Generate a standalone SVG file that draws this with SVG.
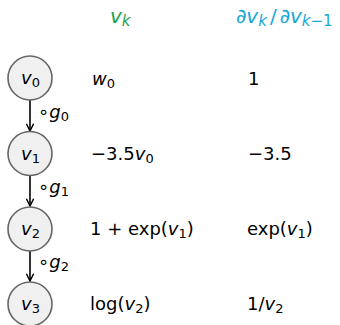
<svg xmlns="http://www.w3.org/2000/svg" width="340" height="325" viewBox="0 0 340 325">
<defs>
<marker id="ah" viewBox="0 0 10 10" refX="9" refY="5" markerWidth="9" markerHeight="9" orient="auto" markerUnits="userSpaceOnUse">
<path d="M1,1 L9,5 L1,9" fill="none" stroke="#000" stroke-width="1.6"/>
</marker>
<style>
text{font-family:"DejaVu Sans","Liberation Sans",sans-serif;font-size:18px;fill:#000}
.i{font-style:italic}
.s{font-size:13px}
.h{font-size:20px}
.hs{font-size:15px}
.n{fill:#f0f0f0;stroke:#666;stroke-width:1.6}
.c{stroke:#000;stroke-width:1.6;fill:none;marker-end:url(#ah)}
.g{fill:#22a34a}
.b{fill:#1ca7d6}
</style>
</defs>
<rect width="340" height="325" fill="#fff"/>
<text x="110" y="23" class="g h"><tspan class="i">v</tspan><tspan class="i hs" dy="3">k</tspan></text>
<text x="236" y="23" class="b h">∂<tspan class="i">v</tspan><tspan class="i hs" dy="3">k</tspan><tspan dy="-3" dx="3">/</tspan><tspan dx="3">∂</tspan><tspan class="i">v</tspan><tspan class="hs" dy="3"><tspan class="i">k</tspan>−1</tspan></text>
<g id="connectors">
<line class="c" x1="30" y1="100" x2="30" y2="131"/>
<line class="c" x1="30" y1="176" x2="30" y2="206"/>
<line class="c" x1="30" y1="251" x2="30" y2="281"/>
<text x="38" y="118">∘<tspan class="i">g</tspan><tspan class="s" dy="3">0</tspan></text>
<text x="38" y="193">∘<tspan class="i">g</tspan><tspan class="s" dy="3">1</tspan></text>
<text x="38" y="268">∘<tspan class="i">g</tspan><tspan class="s" dy="3">2</tspan></text>
</g>
<g id="v0">
<circle class="n" cx="30" cy="78" r="22"/>
<text x="21" y="84"><tspan class="i">v</tspan><tspan class="s" dy="3">0</tspan></text>
</g>
<g id="v1">
<circle class="n" cx="30" cy="153.5" r="22"/>
<text x="21" y="159.5"><tspan class="i">v</tspan><tspan class="s" dy="3">1</tspan></text>
</g>
<g id="v2">
<circle class="n" cx="30" cy="229" r="22"/>
<text x="21" y="235"><tspan class="i">v</tspan><tspan class="s" dy="3">2</tspan></text>
</g>
<g id="v3">
<circle class="n" cx="30" cy="304" r="22"/>
<text x="21" y="310"><tspan class="i">v</tspan><tspan class="s" dy="3">3</tspan></text>
</g>
<text x="92" y="85"><tspan class="i">w</tspan><tspan class="s" dy="3">0</tspan></text>
<text x="248" y="85">1</text>
<text x="91" y="160">−3.5<tspan class="i">v</tspan><tspan class="s" dy="3">0</tspan></text>
<text x="248" y="160">−3.5</text>
<text x="90" y="235">1 + exp(<tspan class="i">v</tspan><tspan class="s" dy="3">1</tspan><tspan dy="-3">)</tspan></text>
<text x="247" y="235">exp(<tspan class="i">v</tspan><tspan class="s" dy="3">1</tspan><tspan dy="-3">)</tspan></text>
<text x="90" y="310">log(<tspan class="i">v</tspan><tspan class="s" dy="3">2</tspan><tspan dy="-3">)</tspan></text>
<text x="247" y="310">1/<tspan class="i">v</tspan><tspan class="s" dy="3">2</tspan></text>
</svg>
